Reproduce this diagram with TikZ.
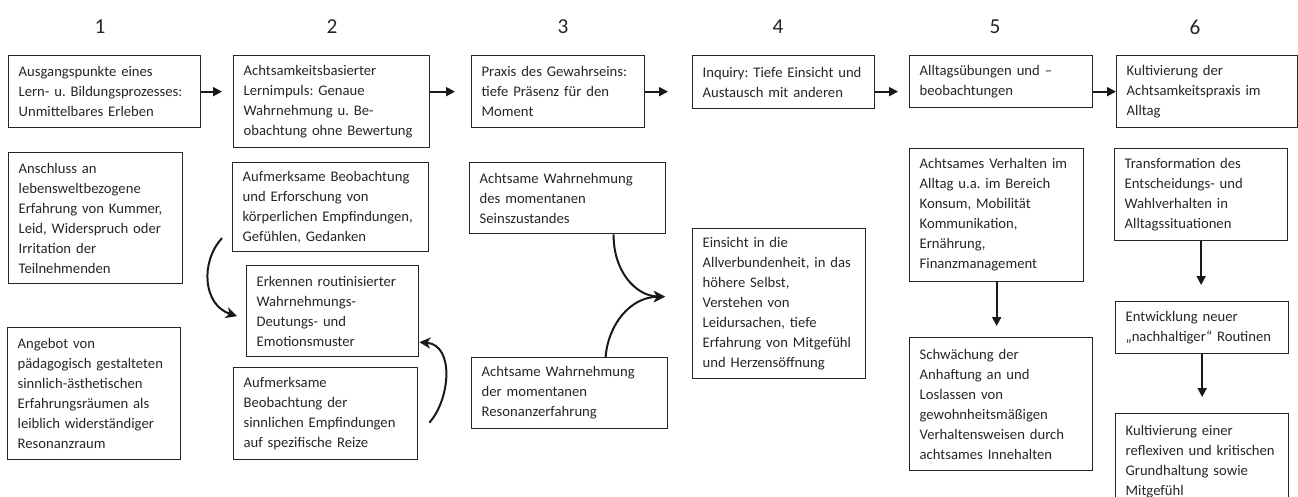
\documentclass[tikz,border=0pt]{standalone}
\usepackage{fontspec}
\setmainfont{Carlito}
\frenchspacing
\usetikzlibrary{arrows.meta,calc}
\tikzset{
  box/.style={draw=black!85, line width=1.3pt, anchor=north west, align=left,
    inner xsep=10pt, inner ysep=2pt, text=black!85,
    font=\fontsize{14.67pt}{20pt}\selectfont\frenchspacing},
  num/.style={font=\fontsize{21.3pt}{24pt}\selectfont, text=black!85, inner sep=0pt},
  arr/.style={line width=1.9pt, draw=black!90, -{Triangle[length=9pt,width=9pt]}},
  carr/.style={line width=2pt, draw=black!90, -{Stealth[length=11pt,width=11pt,inset=3pt]}}
}
\begin{document}
\begin{tikzpicture}[x=1pt,y=1pt]
\useasboundingbox (0,0) rectangle (1298,-497);
% numbers
\node[num] (n1) at (100,-27) {1};
\node[num] (n2) at (332,-27) {2};
\node[num] (n3) at (563,-27) {3};
\node[num] (n4) at (778,-27) {4};
\node[num] (n5) at (995,-27) {5};
\node[num] (n6) at (1195,-27) {6};
% row A
\node[box, text width=172pt, minimum height=72pt] (A1) at (8,-55) {Ausgangspunkte eines\\Lern- u. Bildungsprozesses:\\Unmittelbares Erleben};
\node[box, text width=176pt, minimum height=92pt] (A2) at (233,-55) {Achtsamkeitsbasierter\\Lernimpuls: Genaue\\Wahrnehmung u. Be-\\obachtung ohne Bewertung};
\node[box, text width=153pt, minimum height=72pt] (A3) at (471,-55) {Praxis des Gewahrseins:\\tiefe Präsenz für den\\Moment};
\node[box, text width=162pt, minimum height=53pt] (A4) at (692,-55) {Inquiry: Tiefe Einsicht und\\Austausch mit anderen};
\node[box, text width=163pt, minimum height=52pt] (A5) at (909,-55) {Alltagsübungen und –\\beobachtungen};
\node[box, text width=161pt, minimum height=72pt] (A6) at (1116,-55) {Kultivierung der\\Achtsamkeitspraxis im\\Alltag};
% column 1
\node[box, text width=154pt, minimum height=131pt] (B1) at (8,-152) {Anschluss an\\lebensweltbezogene\\Erfahrung von Kummer,\\Leid, Widerspruch oder\\Irritation der\\Teilnehmenden};
\node[box, text width=153pt, minimum height=132pt] (D1) at (7,-327) {Angebot von\\pädagogisch gestalteten\\sinnlich-ästhetischen\\Erfahrungsräumen als\\leiblich widerständiger\\Resonanzraum};
% column 2
\node[box, text width=176pt, minimum height=89pt] (B2) at (232,-162) {Aufmerksame Beobachtung\\und Erforschung von\\körperlichen Empfindungen,\\Gefühlen, Gedanken};
\node[box, text width=152pt, minimum height=91pt] (C2) at (246,-265) {Erkennen routinisierter\\Wahrnehmungs-\\Deutungs- und\\Emotionsmuster};
\node[box, text width=164pt, minimum height=92pt] (D2) at (233,-367) {Aufmerksame\\Beobachtung der\\sinnlichen Empfindungen\\auf spezifische Reize};
% column 3
\node[box, text width=176pt, minimum height=71pt] (B3) at (469,-162) {Achtsame Wahrnehmung\\des momentanen\\Seinszustandes};
\node[box, text width=176pt, minimum height=71pt] (C3) at (471,-357) {Achtsame Wahrnehmung\\der momentanen\\Resonanzerfahrung};
% column 4
\node[box, text width=153pt, minimum height=150pt] (B4) at (692,-228) {Einsicht in die\\Allverbundenheit, in das\\höhere Selbst,\\Verstehen von\\Leidursachen, tiefe\\Erfahrung von Mitgefühl\\und Herzensöffnung};
% column 5
\node[box, text width=154pt, minimum height=133pt] (B5) at (909,-148) {Achtsames Verhalten im\\Alltag u.a. im Bereich\\Konsum, Mobilität\\Kommunikation,\\Ernährung,\\Finanzmanagement};
\node[box, text width=163pt, minimum height=133pt] (C5) at (909,-337) {Schwächung der\\Anhaftung an und\\Loslassen von\\gewohnheitsmäßigen\\Verhaltensweisen durch\\achtsames Innehalten};
% column 6
\node[box, text width=153pt, minimum height=92pt] (B6) at (1114,-148) {Transformation des\\Entscheidungs- und\\Wahlverhalten in\\Alltagssituationen};
\node[box, text width=153pt, minimum height=52pt] (C6) at (1115,-301) {Entwicklung neuer\\„nachhaltiger“ Routinen};
\node[box, text width=153pt, minimum height=96pt] (D6) at (1115,-413) {Kultivierung einer\\reflexiven und kritischen\\Grundhaltung sowie\\Mitgefühl};
% straight arrows, top row
\draw[arr, shorten >=11pt] (A1.east) -- (A1.east -| A2.west);
\draw[arr, shorten >=16pt] (A2.east |- A3.east) -- (A3.west);
\draw[arr, shorten >=24pt] (A3.east) -- (A3.east -| A4.west);
\draw[arr, shorten >=11pt] (A4.east |- A3.east) -- (A5.west |- A3.east);
\draw[arr] (A5.east |- A6.west) -- (A6.west);
% vertical arrows
\draw[arr, shorten >=11pt] (B5.south) -- (B5.south |- C5.north);
\draw[arr, shorten >=16pt] (B6.south) -- (B6.south |- C6.north);
\draw[arr, shorten >=16pt] (C6.south) -- (C6.south |- D6.north);
% curved arrows column 2
\draw[carr] ([shift={(-10,-31)}]B2.west) .. controls (200,-262) and (203,-305) .. ([shift={(-9,-5)}]C2.west);
\draw[carr] ([shift={(11,-9)}]D2.east) .. controls (450,-400) and (455,-345) .. ([shift={(0,-31)}]C2.east);
% curved arrows column 3 -> 4
\coordinate (T) at ([shift={(-27,7)}]B4.west);
\draw[carr] ([xshift=46]B3.south) .. controls (613,-270) and (635,-296) .. (T);
\draw[carr] ([xshift=36]C3.north) .. controls (608,-325) and (630,-297) .. (T);
\end{tikzpicture}
\end{document}
